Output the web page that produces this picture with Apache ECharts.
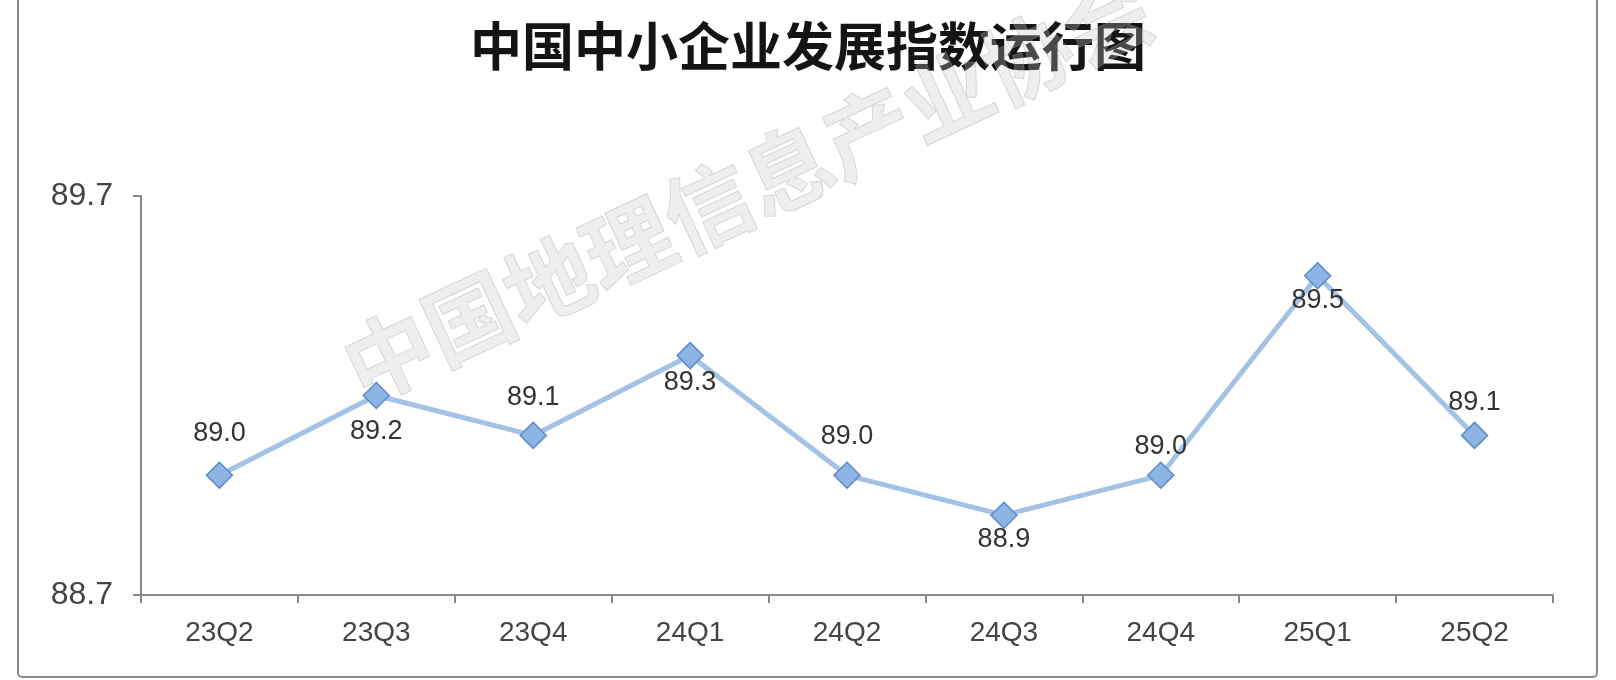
<!DOCTYPE html>
<html><head><meta charset="utf-8">
<script src="https://cdn.jsdelivr.net/npm/echarts@6/dist/echarts.min.js"></script>
<style>html,body{margin:0;padding:0;background:#fff}#c{width:1616px;height:680px}</style>
</head><body><div id="c"></div>
<script>
const titleText = '中国中小企业发展指数运行图';
const watermarkText = '中国地理信息产业协会';
const categories = ['23Q2','23Q3','23Q4','24Q1','24Q2','24Q3','24Q4','25Q1','25Q2'];
const indexValues = [89.0, 89.2, 89.1, 89.3, 89.0, 88.9, 89.0, 89.5, 89.1];
const yTickLabels = [88.7, 89.7];

// label placement (style): side of the marker and distance
const labelSide = ['top','bottom','top','bottom','top','bottom','top','bottom','top'];
const labelDist = [15, 9, 11, 0, 12, -3, 2, -3, 6];

const chart = echarts.init(document.getElementById('c'));
const seriesData = indexValues.map((v, i) => ({
  value: v,
  label: { position: labelSide[i], distance: labelDist[i] }
}));

chart.setOption({
  backgroundColor: '#fff',
  animation: false,
  title: {
    text: titleText,
    left: 'center',
    top: 15,
    textStyle: { fontFamily: 'Noto Sans CJK SC', fontSize: 52, fontWeight: 'bold', color: '#141414' }
  },
  grid: { left: 141, right: 63, top: 196, bottom: 85 },
  xAxis: {
    type: 'category',
    data: categories,
    boundaryGap: true,
    axisLine: { lineStyle: { color: '#888', width: 2 } },
    axisTick: { show: true, length: 8, lineStyle: { color: '#888', width: 2 } },
    axisLabel: { color: '#444', fontSize: 28, fontFamily: 'Liberation Sans', margin: 24 }
  },
  yAxis: {
    type: 'value',
    min: 88.7,
    max: 89.7,
    axisLine: { show: true, lineStyle: { color: '#888', width: 2 } },
    axisTick: { show: true, length: 8, customValues: yTickLabels, lineStyle: { color: '#888', width: 2 } },
    splitLine: { show: false },
    axisLabel: {
      customValues: yTickLabels,
      color: '#444', fontSize: 32, fontFamily: 'Liberation Sans', margin: 28,
      formatter: v => v.toFixed(1)
    }
  },
  series: [{
    type: 'line',
    data: seriesData,
    symbol: 'diamond',
    symbolSize: 26,
    lineStyle: { color: '#a3c2e5', width: 5 },
    itemStyle: { color: '#8db4e2', borderColor: '#5b8bc9', borderWidth: 1.5 },
    label: {
      show: true,
      color: '#333',
      fontSize: 27,
      fontFamily: 'Liberation Sans',
      formatter: p => p.value.toFixed(1)
    },
    z: 3
  }],
  graphic: [
    {
      type: 'rect',
      shape: { x: 18, y: -10, width: 1579, height: 687, r: 4 },
      style: { fill: 'none', stroke: '#8a8a8a', lineWidth: 2 },
      silent: true, z: 0
    },
    {
      type: 'text',
      x: 748, y: 188,
      rotation: 25 * Math.PI / 180,
      style: {
        text: watermarkText,
        fontFamily: 'Noto Sans CJK SC',
        fontSize: 88,
        fontWeight: 'bold',
        fill: 'rgba(200,200,200,0.3)',
        stroke: 'rgba(150,150,150,0.35)',
        lineWidth: 1,
        align: 'center',
        verticalAlign: 'middle'
      },
      silent: true, z: 10
    }
  ]
});
</script></body></html>
